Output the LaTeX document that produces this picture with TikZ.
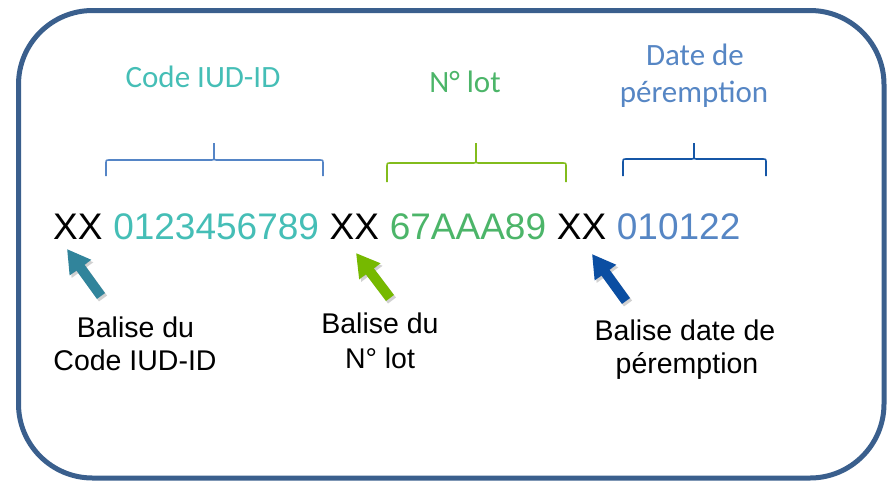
\documentclass[tikz,border=0pt]{standalone}
\usepackage{fontspec}
\setmainfont{Liberation Sans}
\newfontfamily\calib{Carlito}
\usetikzlibrary{arrows.meta}
\definecolor{bordercol}{HTML}{3A5F8D}
\definecolor{tealtxt}{HTML}{45BEB6}
\definecolor{greentxt}{HTML}{4CB569}
\definecolor{bluetxt}{HTML}{5686C4}
\definecolor{braceA}{HTML}{5585C6}
\definecolor{braceB}{HTML}{82BC1C}
\definecolor{braceC}{HTML}{1556A6}
\definecolor{arrA}{HTML}{31849B}
\definecolor{arrB}{HTML}{76B900}
\definecolor{arrC}{HTML}{0B4EA2}
\tikzset{
  mainfont/.style={inner sep=0pt, font=\fontsize{37}{44}\selectfont},
  toplab/.style={inner sep=0pt, anchor=base, font=\calib\fontsize{31}{37}\selectfont},
  botlab/.style={inner sep=0pt, anchor=base, font=\fontsize{28.5}{33}\selectfont},
  bracestyle/.style={line width=1.6pt},
  blockarrow/.style={line width=10pt, -{Triangle[width=25pt,length=23pt]}},
  arrshadow/.style={blockarrow, black, opacity=0.18}
}
\begin{document}
\begin{tikzpicture}[x=1pt,y=-1pt]
\useasboundingbox (0,0) rectangle (889,480);
% frame
\draw[line width=5pt, bordercol, rounded corners=74pt] (18.5,10.5) rectangle (884,478);

% main code line
\node[mainfont, anchor=base west] (xx1) at (53,239) {XX};
\node[mainfont, tealtxt, anchor=base west] (code) at ([xshift=10.3pt]xx1.base east) {0123456789};
\node[mainfont, anchor=base west] (xx2) at ([xshift=10.3pt]code.base east) {XX};
\node[mainfont, greentxt, anchor=base west] (lot) at ([xshift=10.3pt]xx2.base east) {67AAA89};
\node[mainfont, anchor=base west] (xx3) at ([xshift=10.3pt]lot.base east) {XX};
\node[mainfont, bluetxt, anchor=base west] (date) at ([xshift=10.3pt]xx3.base east) {010122};

% top labels
\node[toplab, tealtxt] (tcode) at (203,87) {Code IUD-ID};
\node[toplab, greentxt] (tlot) at (465,92) {N° lot};
\node[toplab, bluetxt] (tdate1) at (695,65) {Date de};
\node[toplab, bluetxt] (tdate2) at (694,102) {péremption};

% braces
\draw[bracestyle, braceA] (106,176) -- (106,164) .. controls (106,160) .. (110,160) -- (210,160)
  .. controls (214,160) .. (214,156) -- (214,143);
\draw[bracestyle, braceA] (214,156) .. controls (214,160) .. (218,160) -- (319,160)
  .. controls (323,160) .. (323,164) -- (323,176);
\draw[bracestyle, braceB] (387,182) -- (387,167) .. controls (387,163) .. (391,163) -- (472,163)
  .. controls (476,163) .. (476,159) -- (476,143);
\draw[bracestyle, braceB] (476,159) .. controls (476,163) .. (480,163) -- (562,163)
  .. controls (566,163) .. (566,167) -- (566,182);
\draw[bracestyle, braceC] (623,176) -- (623,163) .. controls (623,159) .. (627,159) -- (690,159)
  .. controls (694,159) .. (694,155) -- (694,143);
\draw[bracestyle, braceC] (694,155) .. controls (694,159) .. (698,159) -- (762,159)
  .. controls (766,159) .. (766,163) -- (766,176);

% bottom labels
\node[botlab] (b1a) at (135.5,337) {Balise du};
\node[botlab] (b1b) at (135,370) {Code IUD-ID};
\node[botlab] (b2a) at (380,333) {Balise du};
\node[botlab] (b2b) at (380,368) {N° lot};
\node[botlab] (b3a) at (685,340) {Balise date de};
\node[botlab] (b3b) at (687,373) {péremption};

% arrows
\coordinate (t1) at (101,296);
\coordinate (p1) at (67,249);
\coordinate (t2) at (390,298);
\coordinate (p2) at (356,253);
\coordinate (t3) at (626,301);
\coordinate (p3) at (592,254);
\foreach \t/\p in {t1/p1,t2/p2,t3/p3}{
  \draw[arrshadow] ([shift={(2,2.5)}]\t) -- ([shift={(2,2.5)}]\p);
}
\draw[blockarrow, arrA] (t1) -- (p1);
\draw[blockarrow, arrB] (t2) -- (p2);
\draw[blockarrow, arrC] (t3) -- (p3);
\end{tikzpicture}
\end{document}
